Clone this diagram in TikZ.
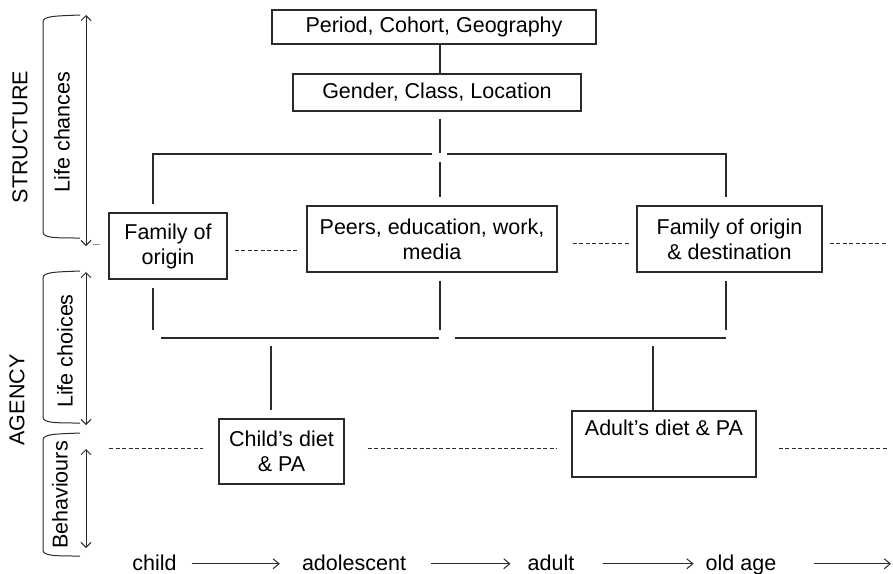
\documentclass[tikz,border=0pt]{standalone}
\usepackage{fontspec}
\setmainfont{Liberation Sans}
\usetikzlibrary{arrows.meta,calc}
\definecolor{ink}{HTML}{2B2B2B}
\newcommand\bigtxt{\fontsize{21.5}{25}\selectfont}
\begin{document}
\begin{tikzpicture}[x=1pt,y=-1pt,
  box/.style={draw=ink, line width=1.1pt, inner sep=0pt, align=center, font=\bigtxt, text=black},
  link/.style={draw=ink, line width=1.1pt},
  dotline/.style={draw=ink, line width=0.9pt, dash pattern=on 4pt off 2.5pt},
  dbl/.style={draw=ink, line width=1pt, {Straight Barb[length=5pt,width=10pt]}-{Straight Barb[length=5pt,width=10pt]}},
  tlarrow/.style={draw=ink, line width=1pt, -{Straight Barb[length=6pt,width=10pt]}},
  brk/.style={draw=ink, line width=1pt},
  side/.style={rotate=90, inner sep=0pt, font=\bigtxt, text=black},
  tl/.style={font=\bigtxt, inner sep=0pt, text height=17pt, text depth=4.5pt, anchor=base, text=black}]
\fill[white] (0,0) rectangle (893,573);
\useasboundingbox (0,0) rectangle (893,573);

% helper coordinates
\coordinate (xL) at (153,0);
\coordinate (xC) at (440,0);
\coordinate (xR) at (726,0);
\coordinate (xCh) at (271,0);
\coordinate (xAd) at (653,0);
\coordinate (topbus) at (0,154);
\coordinate (botbus) at (0,338);

% boxes
\node[box, minimum width=324pt, minimum height=34pt] (period) at (434,27) {Period, Cohort, Geography};
\node[box, minimum width=288pt, minimum height=37pt] (gender) at (437,92.5) {Gender, Class, Location};
\node[box, minimum width=118pt, minimum height=66pt] (famorig) at (168,246) {Family of\\origin};
\node[box, minimum width=250pt, minimum height=66pt] (peers) at (432,239) {Peers, education, work,\\media};
\node[box, minimum width=185pt, minimum height=66pt] (famdest) at (729.5,239) {Family of origin\\\& destination};
\node[box, minimum width=125pt, minimum height=65pt] (childdiet) at (281.5,451.5) {Child’s diet\\\& PA};
\node[box, minimum width=184pt, minimum height=66pt] (adultdiet) at (664,444) {Adult’s diet \& PA\\\strut};

% upper connectors
\draw[link] (period.south -| xC) -- (gender.north -| xC);
\draw[link] ($(gender.south -| xC)+(0,7)$) -- ($(topbus -| xC)+(0,-1)$);
\draw[link] ($(topbus -| xC)+(0,8)$) -- ($(peers.north -| xC)+(0,-8)$);
\draw[link] ($(famorig.north -| xL)+(0,-8)$) -- (topbus -| xL) -- ($(topbus -| xC)+(-8,0)$);
\draw[link] ($(topbus -| xC)+(7,0)$) -- (topbus -| xR) -- ($(famdest.north -| xR)+(0,-8)$);

% lower connectors
\draw[link] ($(famorig.south -| xL)+(0,8)$) -- ($(botbus -| xL)+(0,-8)$);
\draw[link] ($(peers.south -| xC)+(0,8)$) -- ($(botbus -| xC)+(0,-8)$);
\draw[link] ($(famdest.south -| xR)+(0,8)$) -- ($(botbus -| xR)+(0,-8)$);
\draw[link] ($(botbus -| xL)+(8,0)$) -- ($(botbus -| xC)+(-1,0)$);
\draw[link] ($(botbus -| xC)+(15,0)$) -- (botbus -| xR);
\draw[link] ($(botbus -| xCh)+(0,8)$) -- ($(childdiet.north -| xCh)+(0,-8)$);
\draw[link] ($(botbus -| xAd)+(0,8)$) -- (adultdiet.north -| xAd);

% dashed links
\coordinate (dR1) at (887,243);
\coordinate (dL2) at (109,448);
\coordinate (dR2) at (887,448);
\draw[dotline] ($(famorig.east)+(7,4)$) -- ($(peers.west |- famorig.east)+(-8,4)$);
\draw[dotline] ($(peers.east)+(15,4)$) -- ($(famdest.west)+(-7,4)$);
\draw[dotline] ($(famdest.east)+(7,4)$) -- (dR1);
\draw[ink!50, line width=0.8pt] ($(famorig.west)+(-15,-2)$) -- ($(famorig.west)+(-8,-2)$);
\draw[dotline] (dL2) -- ($(childdiet.west)+(-15,-3.5)$);
\draw[dotline] ($(childdiet.east)+(23,-3.5)$) -- ($(adultdiet.west)+(-15,4)$);
\draw[dotline] ($(adultdiet.east)+(22,4)$) -- (dR2);

% left brackets and arrows
\draw[brk] (80,15) .. controls (55,16) and (43,16) .. (43,22) -- (43,232) .. controls (43,238) and (55,238) .. (80,238);
\draw[brk] (80,271) .. controls (55,272) and (43,272) .. (43,278) -- (43,417) .. controls (43,423) and (55,423) .. (80,423);
\draw[brk] (80,433) .. controls (55,434) and (43,434) .. (43,440) -- (43,550) .. controls (43,556) and (55,556) .. (80,556);
\draw[dbl] (86,15) -- (86,246);
\draw[dbl] (86,272) -- (86,425);
\draw[dbl] (86,449) -- (86,548);

\node[side] (structure) at (20,137) {STRUCTURE};
\node[side] (lifechances) at (62,132) {Life chances};
\node[side] (lifechoices) at (65,351) {Life choices};
\node[side] (agency) at (17,400) {AGENCY};
\node[side] (behaviours) at (60,495) {Behaviours};

% timeline
\node[tl] (child) at (154.5,570) {child};
\node[tl] (adolescent) at (354,570) {adolescent};
\node[tl] (adult) at (551,570) {adult};
\node[tl] (oldage) at (741,570) {old age};
\coordinate (tlend) at (891,0);
\draw[tlarrow] ($(child.east)+(15,0)$) -- ($(adolescent.west)+(-22,0)$);
\draw[tlarrow] ($(adolescent.east)+(25,0)$) -- ($(adult.west)+(-17,0)$);
\draw[tlarrow] ($(adult.east)+(28,0)$) -- ($(oldage.west)+(-12,0)$);
\draw[tlarrow] ($(oldage.east)+(38,0)$) -- (oldage.east -| tlend);
\end{tikzpicture}
\end{document}
